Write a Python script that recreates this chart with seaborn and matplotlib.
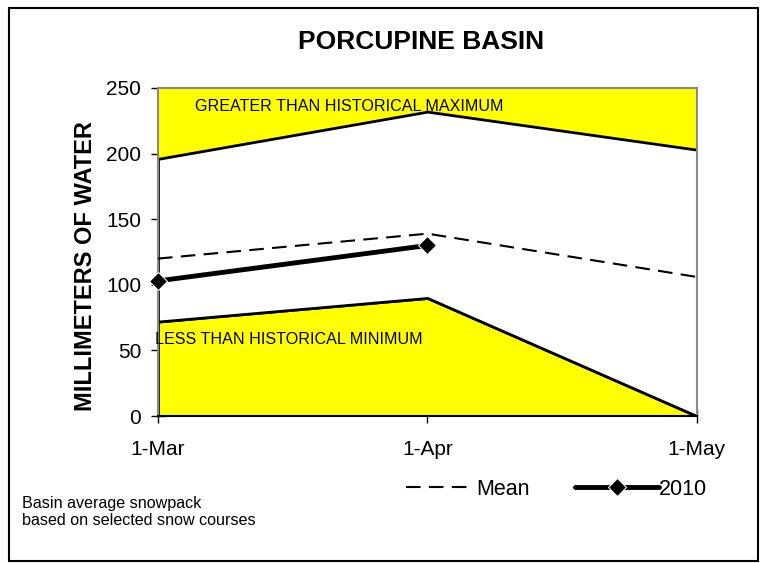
import numpy as np
import pandas as pd
import matplotlib
matplotlib.use("Agg")
import matplotlib.pyplot as plt
import seaborn as sns

# values (mm of water)
dates = ["1-Mar", "1-Apr", "1-May"]
hist_max = [196, 232, 203]
hist_min = [72, 90, 0]
mean_vals = [120, 139, 106]
y2010 = [103, 130]
y_top = 250

sns.set_style("white")
plt.rcParams['font.family'] = ['Liberation Sans', 'DejaVu Sans']
plt.rcParams.update({"text.color": "black", "axes.labelcolor": "black",
                     "xtick.color": "black", "ytick.color": "black"})

xs = np.arange(len(dates))
df_mean = pd.DataFrame({"x": xs, "v": mean_vals})
df_2010 = pd.DataFrame({"x": xs[:len(y2010)], "v": y2010})

fig = plt.figure(figsize=(7.65, 5.63), dpi=100)
ax = fig.add_axes([0.2065, 0.261, 0.7045, 0.5827])

# yellow bands and white middle band
ax.fill_between(xs, hist_max, y_top, color="#ffff00", lw=0, zorder=1)
ax.fill_between(xs, 0, hist_min, facecolor="#ffff00", edgecolor="black", lw=2, zorder=1)
ax.fill_between(xs, hist_min, hist_max, facecolor="white", edgecolor="black", lw=2, zorder=2)

sns.lineplot(data=df_mean, x="x", y="v", ax=ax, color="black", lw=1.5, zorder=4)
mean_line = ax.lines[-1]
mean_line.set_dashes([7, 4])
sns.lineplot(data=df_2010, x="x", y="v", ax=ax, color="black", lw=3.5,
             marker="D", markersize=9, zorder=5)
line_2010 = ax.lines[-1]
line_2010.set_clip_on(False)

ax.set_xlim(0, 2)
ax.set_ylim(0, y_top)
ax.set_xticks(xs)
ax.set_xticklabels(dates)
ax.set_yticks(range(0, 251, 50))
ax.tick_params(axis="both", direction="inout", length=10, width=1, labelsize=15,
               left=True, bottom=True)
ax.tick_params(axis="y", pad=7)
ax.tick_params(axis="x", pad=12.5)
ax.set_xlabel("")
ax.set_ylabel("")

ax.spines["bottom"].set_color("black")
ax.spines["bottom"].set_linewidth(1.5)
for side in ["top", "right", "left"]:
    ax.spines[side].set_color("#888888")
    ax.spines[side].set_linewidth(1.5)

ax.text(0.137, 236, "GREATER THAN HISTORICAL MAXIMUM", fontsize=11.6, va="center", zorder=6)
ax.text(-0.01, 58, "LESS THAN HISTORICAL MINIMUM", fontsize=11.6, va="center", zorder=6)

fig.text(0.5503, 0.925, "PORCUPINE BASIN", ha="center", va="center",
         fontsize=19, fontweight="bold")
fig.text(0.112, 0.5275, "MILLIMETERS OF WATER", rotation=90, ha="center", va="center",
         fontsize=17, fontweight="bold")

# two separate legend entries, like the original
leg1 = fig.legend([mean_line], ["Mean"], loc="center left", bbox_to_anchor=(0.520, 0.131),
                  frameon=False, fontsize=15.5, handlelength=2.8, handletextpad=0.45,
                  borderaxespad=0)
leg2 = fig.legend([line_2010], ["2010"], loc="center left", bbox_to_anchor=(0.740, 0.131),
                  frameon=False, fontsize=15.5, handlelength=3.9, handletextpad=0.0,
                  borderaxespad=0)

fig.text(0.029, 0.0906, "Basin average snowpack\nbased on selected snow courses",
         fontsize=11.6, va="center", linespacing=1.2)

border = plt.Rectangle((0.0118, 0.004), 0.979, 0.982, transform=fig.transFigure,
                       fill=False, edgecolor="black", lw=1.5)
fig.patches.append(border)

fig.savefig("out.png", dpi=100)
